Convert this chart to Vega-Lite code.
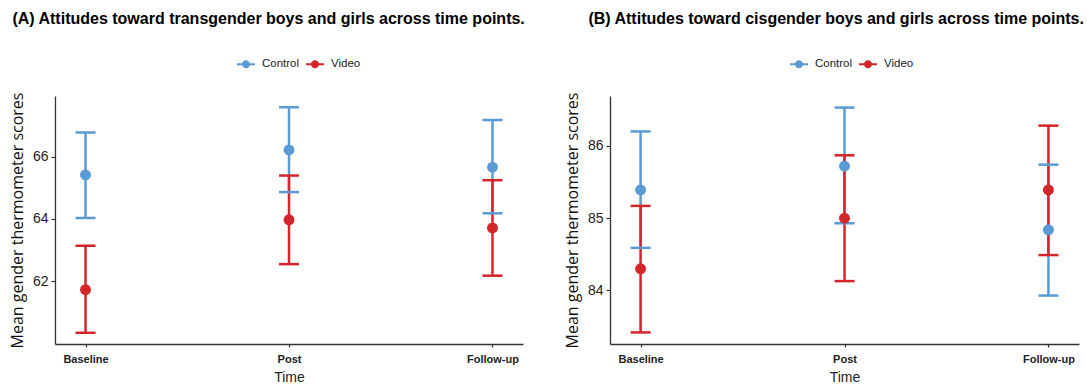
{
  "$schema": "https://vega.github.io/schema/vega-lite/v6.json",
  "padding": {"left": 9, "top": 11, "right": 0, "bottom": 0},
  "spacing": 38,
  "config": {
    "view": {"stroke": null},
    "font": "Liberation Sans",
    "axis": {"grid": false, "domainColor": "#333333", "domainWidth": 1.3, "tickColor": "#333333", "tickWidth": 1.2},
    "title": {"font": "Liberation Sans", "fontSize": 16, "fontWeight": "bold", "color": "#000000"}
  },
  "datasets": {
    "A": [
      {"Time": "Baseline", "Group": "Control", "mean": 65.41, "lo": 64.03, "hi": 66.77},
      {"Time": "Baseline", "Group": "Video", "mean": 61.73, "lo": 60.35, "hi": 63.14},
      {"Time": "Post", "Group": "Control", "mean": 66.21, "lo": 64.86, "hi": 67.58},
      {"Time": "Post", "Group": "Video", "mean": 63.97, "lo": 62.55, "hi": 65.39},
      {"Time": "Follow-up", "Group": "Control", "mean": 65.66, "lo": 64.18, "hi": 67.17},
      {"Time": "Follow-up", "Group": "Video", "mean": 63.71, "lo": 62.18, "hi": 65.24}
    ],
    "B": [
      {"Time": "Baseline", "Group": "Control", "mean": 85.39, "lo": 84.59, "hi": 86.2},
      {"Time": "Baseline", "Group": "Video", "mean": 84.3, "lo": 83.42, "hi": 85.17},
      {"Time": "Post", "Group": "Control", "mean": 85.72, "lo": 84.93, "hi": 86.53},
      {"Time": "Post", "Group": "Video", "mean": 85.0, "lo": 84.13, "hi": 85.87},
      {"Time": "Follow-up", "Group": "Control", "mean": 84.84, "lo": 83.93, "hi": 85.74},
      {"Time": "Follow-up", "Group": "Video", "mean": 85.39, "lo": 84.49, "hi": 86.28}
    ]
  },
  "resolve": {"scale": {"color": "independent"}, "legend": {"color": "independent"}},
  "hconcat": [
    {
      "width": 468,
      "height": 248,
      "title": {"text": "(A) Attitudes toward transgender boys and girls across time points.", "anchor": "start", "frame": "bounds", "offset": 28, "dx": 3},
      "data": {"name": "A"},
      "encoding": {
        "x": {"field": "Time", "type": "ordinal", "sort": ["Baseline", "Post", "Follow-up"],
              "scale": {"type": "point", "padding": 0.15},
              "axis": {"title": "Time", "labelAngle": 0, "labelFont": "Liberation Sans", "labelFontWeight": "bold", "labelFontSize": 11, "labelColor": "#222222", "labelPadding": 6, "tickSize": 3, "titleFont": "Liberation Sans", "titleFontSize": 14, "titleFontWeight": "normal", "titleColor": "#222222", "titlePadding": 6}},
        "color": {"field": "Group", "type": "nominal",
                  "scale": {"domain": ["Control", "Video"], "range": ["#5B9BD5", "#D2262A"]},
                  "legend": {"title": null, "orient": "none", "direction": "horizontal", "legendX": 182, "legendY": -41,
                             "symbolType": "M-1,-0.11 L1,-0.11 L1,0.11 L-1,0.11 Z M0.45,0 A0.45,0.45 0 1,1 -0.45,0 A0.45,0.45 0 1,1 0.45,0 Z",
                             "symbolSize": 324, "symbolStrokeWidth": 0, "symbolOpacity": 1, "labelFontSize": 11.5, "labelFont": "Liberation Sans", "labelColor": "#222222", "labelOffset": 7, "columnPadding": 6}}
      },
      "layer": [
        {"mark": {"type": "rule", "strokeWidth": 2.5, "opacity": 1}, "encoding": {"y": {"field": "lo", "type": "quantitative"}, "y2": {"field": "hi"}}},
        {"mark": {"type": "tick", "size": 20, "thickness": 2.5, "opacity": 1}, "encoding": {"y": {"field": "lo", "type": "quantitative"}}},
        {"mark": {"type": "tick", "size": 20, "thickness": 2.5, "opacity": 1}, "encoding": {"y": {"field": "hi", "type": "quantitative"}}},
        {"mark": {"type": "point", "filled": true, "opacity": 1, "size": 120},
         "encoding": {"y": {"field": "mean", "type": "quantitative",
                            "scale": {"domain": [59.99, 67.94], "nice": false, "zero": false},
                            "axis": {"title": "Mean gender thermometer scores", "values": [62, 64, 66], "format": "d", "labelFontSize": 14, "labelColor": "#222222", "labelPadding": 3, "tickSize": 4, "titleFont": "Open Sans", "titleFontSize": 16, "titleFontWeight": "normal", "titleColor": "#111111", "titlePadding": 7}}}}
      ]
    },
    {
      "width": 469,
      "height": 248,
      "title": {"text": "(B) Attitudes toward cisgender boys and girls across time points.", "anchor": "start", "frame": "bounds", "offset": 28, "dx": 24},
      "data": {"name": "B"},
      "encoding": {
        "x": {"field": "Time", "type": "ordinal", "sort": ["Baseline", "Post", "Follow-up"],
              "scale": {"type": "point", "padding": 0.15},
              "axis": {"title": "Time", "labelAngle": 0, "labelFont": "Liberation Sans", "labelFontWeight": "bold", "labelFontSize": 11, "labelColor": "#222222", "labelPadding": 6, "tickSize": 3, "titleFont": "Liberation Sans", "titleFontSize": 14, "titleFontWeight": "normal", "titleColor": "#222222", "titlePadding": 6}},
        "color": {"field": "Group", "type": "nominal",
                  "scale": {"domain": ["Control", "Video"], "range": ["#5B9BD5", "#D2262A"]},
                  "legend": {"title": null, "orient": "none", "direction": "horizontal", "legendX": 180, "legendY": -41,
                             "symbolType": "M-1,-0.11 L1,-0.11 L1,0.11 L-1,0.11 Z M0.45,0 A0.45,0.45 0 1,1 -0.45,0 A0.45,0.45 0 1,1 0.45,0 Z",
                             "symbolSize": 324, "symbolStrokeWidth": 0, "symbolOpacity": 1, "labelFontSize": 11.5, "labelFont": "Liberation Sans", "labelColor": "#222222", "labelOffset": 7, "columnPadding": 6}}
      },
      "layer": [
        {"mark": {"type": "rule", "strokeWidth": 2.5, "opacity": 1}, "encoding": {"y": {"field": "lo", "type": "quantitative"}, "y2": {"field": "hi"}}},
        {"mark": {"type": "tick", "size": 20, "thickness": 2.5, "opacity": 1}, "encoding": {"y": {"field": "lo", "type": "quantitative"}}},
        {"mark": {"type": "tick", "size": 20, "thickness": 2.5, "opacity": 1}, "encoding": {"y": {"field": "hi", "type": "quantitative"}}},
        {"mark": {"type": "point", "filled": true, "opacity": 1, "size": 120},
         "encoding": {"y": {"field": "mean", "type": "quantitative",
                            "scale": {"domain": [83.26, 86.69], "nice": false, "zero": false},
                            "axis": {"title": "Mean gender thermometer scores", "values": [84, 85, 86], "format": "d", "labelFontSize": 14, "labelColor": "#222222", "labelPadding": 3, "tickSize": 4, "titleFont": "Open Sans", "titleFontSize": 16, "titleFontWeight": "normal", "titleColor": "#111111", "titlePadding": 7}}}}
      ]
    }
  ]
}
